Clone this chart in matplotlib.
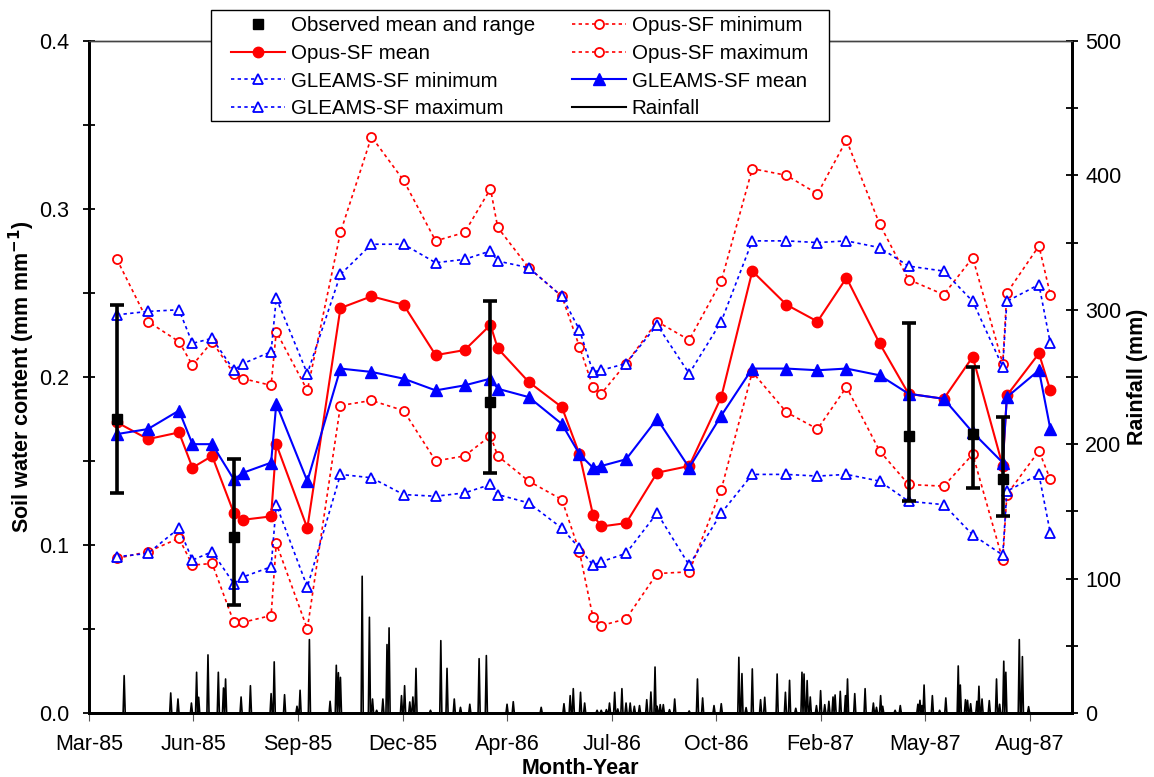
import numpy as np
import pandas as pd
import matplotlib
matplotlib.use('Agg')
import matplotlib.pyplot as plt
import matplotlib.dates as mdates
from matplotlib.lines import Line2D
from matplotlib.patches import Rectangle
from matplotlib.ticker import MultipleLocator, FuncFormatter

plt.rcParams['font.family'] = ['Liberation Sans', 'DejaVu Sans']

start = pd.Timestamp('1985-03-01')

# soil water sampling dates
sample_dates = pd.to_datetime([
    '1985-03-28', '1985-04-27', '1985-05-27', '1985-06-09', '1985-06-28',
    '1985-07-19', '1985-07-28', '1985-08-24', '1985-08-29', '1985-09-28',
    '1985-10-30', '1985-11-29', '1985-12-30', '1986-01-30', '1986-02-27',
    '1986-03-24', '1986-03-31', '1986-04-30', '1986-06-01', '1986-06-18',
    '1986-07-01', '1986-07-09', '1986-08-02', '1986-09-01', '1986-10-02',
    '1986-11-02', '1986-12-02', '1987-01-04', '1987-02-03', '1987-03-03',
    '1987-04-04', '1987-05-02', '1987-06-05', '1987-07-03', '1987-08-01',
    '1987-08-05', '1987-09-05', '1987-09-16'])

opus_mean = [0.173, 0.163, 0.167, 0.146, 0.153, 0.119, 0.115, 0.117, 0.160, 0.110,
             0.241, 0.248, 0.243, 0.213, 0.216, 0.231, 0.217, 0.197, 0.182, 0.154,
             0.118, 0.111, 0.113, 0.143, 0.147, 0.188, 0.263, 0.243, 0.233, 0.259,
             0.220, 0.190, 0.187, 0.212, 0.147, 0.189, 0.214, 0.192]
opus_min = [0.092, 0.096, 0.104, 0.088, 0.089, 0.054, 0.054, 0.058, 0.101, 0.050,
            0.183, 0.186, 0.180, 0.150, 0.153, 0.165, 0.153, 0.138, 0.127, 0.096,
            0.057, 0.052, 0.056, 0.083, 0.084, 0.133, 0.203, 0.179, 0.169, 0.194,
            0.156, 0.136, 0.135, 0.154, 0.091, 0.130, 0.156, 0.139]
opus_max = [0.270, 0.233, 0.221, 0.207, 0.221, 0.202, 0.199, 0.195, 0.227, 0.192,
            0.286, 0.343, 0.317, 0.281, 0.286, 0.312, 0.289, 0.265, 0.248, 0.218,
            0.194, 0.190, 0.208, 0.233, 0.222, 0.257, 0.324, 0.320, 0.309, 0.341,
            0.291, 0.258, 0.249, 0.271, 0.208, 0.250, 0.278, 0.249]
gleams_mean = [0.166, 0.169, 0.180, 0.160, 0.160, 0.139, 0.143, 0.149, 0.184, 0.138,
               0.205, 0.203, 0.199, 0.192, 0.195, 0.199, 0.193, 0.188, 0.172, 0.154,
               0.146, 0.147, 0.151, 0.175, 0.146, 0.177, 0.205, 0.205, 0.204, 0.205,
               0.201, 0.190, 0.187, 0.167, 0.149, 0.188, 0.204, 0.169]
gleams_min = [0.093, 0.095, 0.110, 0.091, 0.096, 0.077, 0.081, 0.087, 0.124, 0.075,
              0.142, 0.140, 0.130, 0.129, 0.131, 0.136, 0.130, 0.125, 0.110, 0.098,
              0.088, 0.090, 0.095, 0.119, 0.088, 0.119, 0.142, 0.142, 0.141, 0.142,
              0.138, 0.126, 0.124, 0.106, 0.094, 0.132, 0.142, 0.107]
gleams_max = [0.237, 0.239, 0.240, 0.220, 0.223, 0.204, 0.208, 0.215, 0.247, 0.202,
              0.261, 0.279, 0.279, 0.268, 0.270, 0.275, 0.269, 0.265, 0.248, 0.228,
              0.203, 0.204, 0.208, 0.231, 0.202, 0.233, 0.281, 0.281, 0.280, 0.281,
              0.277, 0.266, 0.263, 0.245, 0.206, 0.245, 0.255, 0.220]

# observed soil water: mean and range
obs_dates = pd.to_datetime(['1985-03-28', '1985-07-19', '1986-03-24',
                            '1987-05-02', '1987-07-03', '1987-08-01'])
obs_mean = [0.175, 0.105, 0.185, 0.165, 0.166, 0.139]
obs_low = [0.131, 0.064, 0.143, 0.126, 0.134, 0.117]
obs_high = [0.243, 0.151, 0.245, 0.232, 0.206, 0.176]

# daily rainfall events (days after 1 Mar 1985, mm); all other days dry
rain_day = [34, 79, 86, 99, 104, 106, 115, 125, 130, 132, 147, 156, 176, 179, 189,
            201, 204, 213, 233, 239, 241, 243, 264, 271, 274, 278, 284, 288, 290,
            302, 305, 310, 313, 316, 330, 340, 346, 353, 359, 368, 377, 384, 404,
            410, 437, 459, 465, 468, 475, 479, 491, 495, 500, 503, 508, 511, 515,
            519, 523, 527, 532, 539, 543, 547, 549, 552, 555, 561, 566, 580, 588,
            593, 604, 611, 628, 631, 635, 641, 649, 653, 665, 673, 677, 683, 689,
            691, 694, 697, 703, 707, 711, 715, 719, 721, 726, 731, 733, 740, 750,
            758, 761, 765, 767, 779, 784, 801, 803, 805, 807, 815, 822, 828, 840,
            842, 847, 849, 852, 858, 860, 863, 870, 877, 880, 884, 886, 899, 902, 908]
rain_mm = [27.8, 14.9, 10.4, 7.4, 30.3, 11.7, 43.2, 30.3, 18.6, 25.3, 11.9, 20.3, 14.4,
           38.0, 13.6, 5.0, 16.9, 54.6, 8.7, 35.5, 30.0, 26.5, 101.7, 71.2, 10.4, 2.0,
           10.4, 50.9, 63.3, 12.9, 20.3, 8.2, 11.9, 33.2, 2.0, 53.8, 33.2, 10.4, 4.2,
           6.5, 40.4, 42.7, 6.5, 8.4, 4.2, 6.9, 12.9, 18.1, 15.4, 7.4, 2.0, 2.0, 2.5,
           7.4, 15.4, 3.0, 18.1, 7.4, 7.4, 5.0, 5.5, 9.9, 15.6, 34.2, 5.0, 6.2, 6.2,
           2.5, 10.4, 1.5, 25.3, 11.2, 5.5, 6.9, 41.4, 29.3, 4.0, 32.8, 9.9, 11.7,
           29.0, 15.4, 24.3, 3.5, 30.3, 29.0, 24.1, 11.9, 5.5, 16.6, 6.2, 8.7, 11.9,
           13.4, 16.1, 12.9, 25.3, 14.4, 18.1, 7.4, 4.2, 12.9, 5.0, 2.0, 5.5, 6.5,
           9.4, 5.5, 20.8, 12.9, 2.0, 11.2, 35.0, 20.8, 9.9, 9.4, 6.9, 8.7, 19.9,
           10.4, 9.2, 25.3, 6.5, 38.5, 30.3, 54.6, 41.9, 4.7]

days = np.arange(0, 910)
rain = np.zeros(len(days))
rain[rain_day] = rain_mm
rain_dates = start + pd.to_timedelta(days, unit='D')

fig = plt.figure(figsize=(11.54, 7.77), dpi=100)
ax = fig.add_axes([0.0771, 0.0824, 0.8519, 0.8649])
ax2 = ax.twinx()

dot = (0, (2, 2))
ax.plot(sample_dates, opus_max, color='red', ls=dot, lw=1.2, marker='o', ms=6.5,
        mfc='white', mec='red', mew=1.3, zorder=3)
ax.plot(sample_dates, opus_min, color='red', ls=dot, lw=1.2, marker='o', ms=6.5,
        mfc='white', mec='red', mew=1.3, zorder=3)
ax.plot(sample_dates, gleams_max, color='blue', ls=dot, lw=1.2, marker='^', ms=7,
        mfc='white', mec='blue', mew=1.3, zorder=3)
ax.plot(sample_dates, gleams_min, color='blue', ls=dot, lw=1.2, marker='^', ms=7,
        mfc='white', mec='blue', mew=1.3, zorder=3)
ax.plot(sample_dates, opus_mean, color='red', lw=1.5, marker='o', ms=7.5, zorder=4)
ax.plot(sample_dates, gleams_mean, color='blue', lw=1.5, marker='^', ms=8, zorder=4)

err = [np.array(obs_mean) - np.array(obs_low), np.array(obs_high) - np.array(obs_mean)]
ax.errorbar(obs_dates, obs_mean, yerr=err, fmt='s', color='black', ms=7.5,
            elinewidth=2.6, capsize=5, capthick=2.6, zorder=5)

ax2.plot(rain_dates, rain, color='black', lw=1.2)

ax.set_xlim(start, start + pd.Timedelta(days=950))
ax.set_ylim(0, 0.4)
ax2.set_ylim(0, 500)

ax.set_xticks(pd.date_range(start, periods=10, freq='101D'))
ax.xaxis.set_major_formatter(mdates.DateFormatter('%b-%y'))

ax.yaxis.set_major_locator(MultipleLocator(0.05))
ax.yaxis.set_major_formatter(FuncFormatter(
    lambda v, p: '%.1f' % v if abs(v * 10 - round(v * 10)) < 1e-6 else ''))
ax2.yaxis.set_major_locator(MultipleLocator(50))
ax2.yaxis.set_major_formatter(FuncFormatter(
    lambda v, p: '%d' % v if int(round(v)) % 100 == 0 else ''))

ax.tick_params(axis='y', direction='inout', length=9, width=1.3, labelsize=15.5, pad=9.5)
ax2.tick_params(axis='y', direction='inout', length=9, width=1.3, labelsize=15.5, pad=5)
ax.tick_params(axis='x', direction='out', length=6, width=0.8, color='#555555',
               labelsize=15.5, pad=9)

for a in (ax, ax2):
    a.spines['left'].set_linewidth(2)
    a.spines['right'].set_linewidth(2)
    a.spines['bottom'].set_linewidth(2)
    a.spines['top'].set_linewidth(1)
    a.spines['top'].set_color('#444444')

ax.set_ylabel('Soil water content (mm mm$^{\\mathbf{-1}}$)', fontsize=15.5,
              fontweight='bold', labelpad=1.5)
ax2.set_ylabel('Rainfall (mm)', fontsize=15.5, fontweight='bold', labelpad=4)
ax.set_xlabel('Month-Year', fontsize=15.5, fontweight='bold', labelpad=2)

handles = [
    Line2D([], [], ls='none', marker='s', color='black', ms=7.5),
    Line2D([], [], color='red', lw=1.5, marker='o', ms=7.5),
    Line2D([], [], color='blue', ls=dot, lw=1.2, marker='^', ms=7, mfc='white', mew=1.3),
    Line2D([], [], color='blue', ls=dot, lw=1.2, marker='^', ms=7, mfc='white', mew=1.3),
    Line2D([], [], color='red', ls=dot, lw=1.2, marker='o', ms=6.5, mfc='white', mew=1.3),
    Line2D([], [], color='red', ls=dot, lw=1.2, marker='o', ms=6.5, mfc='white', mew=1.3),
    Line2D([], [], color='blue', lw=1.5, marker='^', ms=8),
    Line2D([], [], color='black', lw=1.5),
]
labels = ['Observed mean and range', 'Opus-SF mean', 'GLEAMS-SF minimum',
          'GLEAMS-SF maximum', 'Opus-SF minimum', 'Opus-SF maximum',
          'GLEAMS-SF mean', 'Rainfall']

# legend box sits over the top of the plot frame
fig.patches.append(Rectangle((0.1828, 0.8443), 0.5355, 0.1429, transform=fig.transFigure,
                             facecolor='white', edgecolor='black', lw=1.0, zorder=4))
leg = fig.legend(handles, labels, ncol=2, loc='upper left',
                 bbox_to_anchor=(0.2005, 0.9795), fontsize=14.8, frameon=False,
                 handlelength=2.6, columnspacing=1.8, labelspacing=0.43,
                 borderpad=0, borderaxespad=0, handletextpad=0.3)
leg.set_zorder(5)

fig.savefig('out.png', dpi=100)
